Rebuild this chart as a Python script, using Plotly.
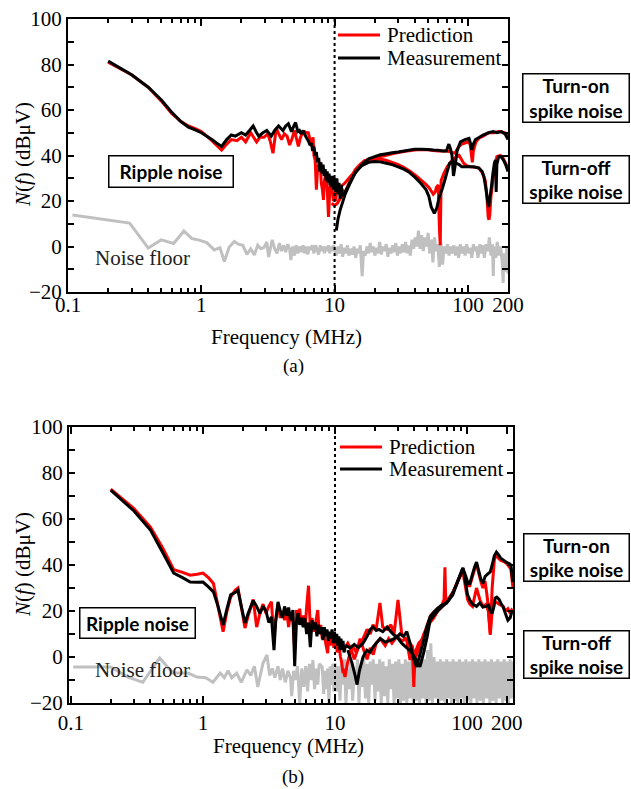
import math
import plotly.graph_objects as go

W, H = 631, 789
SERIF = "Liberation Serif"
SANS = "Lato"
RED = "#ff0000"
BLACK = "#000000"
GREY = "#c0c0c0"

# ---------------- Panel (a): (frequency MHz, N(f) dBuV) ----------------
A_RIPPLE_PRED = [
    (0.2, 81), (0.3, 75.5), (0.4, 70), (0.5, 64), (0.6, 58.5), (0.7, 55), (0.8, 53),
    (0.9, 51.8), (1.0, 50.5), (1.1, 48.5), (1.2, 46.5), (1.3, 44.5), (1.42, 42.4),
    (1.55, 45), (1.68, 47), (1.85, 46.5), (2.0, 48), (2.15, 46), (2.35, 50), (2.5, 47.5),
    (2.6, 46), (2.75, 48), (2.95, 48), (3.15, 49.5), (3.3, 46), (3.45, 41), (3.65, 52),
    (3.85, 49), (4.0, 47), (4.2, 49.5), (4.4, 48.5), (4.6, 44.6), (4.8, 47.5), (5.0, 51),
    (5.2, 47), (5.35, 44), (5.55, 48), (5.75, 50), (5.95, 50.5), (6.15, 50), (6.35, 50),
    (6.55, 47), (6.75, 44), (6.9, 48), (7.0, 40), (7.15, 38), (7.3, 25), (7.45, 34),
    (7.6, 36), (7.8, 37), (7.95, 28), (8.1, 25), (8.25, 20.5), (8.4, 29), (8.6, 32),
    (8.8, 26), (9.0, 13), (9.2, 24), (9.4, 30), (9.6, 25), (9.8, 20), (10.0, 24),
    (10.2, 20), (10.5, 27), (10.8, 24), (11.2, 26), (11.6, 24),
]
A_RIPPLE_MEAS = [
    (0.2, 81.5), (0.3, 75.5), (0.4, 70), (0.5, 64.5), (0.6, 59), (0.7, 55), (0.8, 52.5),
    (0.9, 51.3), (1.0, 50), (1.1, 48.5), (1.2, 47), (1.3, 45.5), (1.42, 44), (1.55, 47),
    (1.68, 49), (1.8, 48.5), (2.0, 50), (2.15, 49), (2.3, 51), (2.45, 53), (2.6, 50),
    (2.7, 48.5), (2.9, 50), (3.1, 51), (3.35, 48.5), (3.55, 51), (3.8, 53), (4.1, 51),
    (4.3, 53), (4.5, 54), (4.75, 50.5), (4.95, 53), (5.1, 54.5), (5.3, 50.5), (5.45, 51),
    (5.6, 49.5), (5.8, 51), (6.0, 49), (6.2, 47.5), (6.4, 46), (6.55, 44.5), (6.7, 45.5),
    (6.85, 42), (7.0, 44), (7.15, 40), (7.3, 41.5), (7.45, 37), (7.6, 39), (7.75, 33),
    (7.9, 37), (8.05, 32), (8.2, 36), (8.35, 31), (8.5, 34), (8.65, 29), (8.8, 33),
    (8.95, 28), (9.1, 32), (9.25, 27), (9.4, 31), (9.55, 26), (9.7, 31), (9.85, 25),
    (10.0, 30), (10.2, 24), (10.4, 30), (10.6, 23), (10.8, 28), (11.0, 21), (11.2, 27),
    (11.5, 22),
]
A_ON_PRED = [
    (9.5, 19), (10, 18), (10.5, 19), (11, 21), (11.9, 23.5), (13, 28.5), (14.2, 33.6),
    (15.5, 36), (16.7, 37.6), (18.5, 38.5), (21, 39.2), (24, 40), (27, 40.8), (30, 41.3),
    (35, 42), (40, 42.4), (45, 42.6), (50, 42.5), (55, 42.2), (60, 42), (65, 42), (70, 42),
    (75, 41.5), (80, 41), (85, 43.8), (90, 45), (95, 45.5), (100, 46), (104, 45), (106, 41),
    (108, 37), (110, 42), (115, 46), (121, 47.6), (130, 48.5), (143, 50), (157, 50),
    (170, 50.5), (180, 50.3), (190, 50), (200, 48.5),
]
A_ON_MEAS = [
    (10.3, 7), (10.6, 12), (11.0, 16), (11.5, 19.5), (12, 23), (13, 27.5), (14.2, 32),
    (15.5, 35), (16.7, 37), (18, 38.5), (20, 39.5), (22, 40.3), (24, 40.7), (27, 41.2),
    (30, 41.5), (35, 42.2), (40, 42.8), (45, 42.8), (50, 42.6), (55, 42.4), (60, 42.3),
    (65, 42), (69, 42), (72, 45), (74, 43), (76, 40), (78, 31), (80, 35), (83, 42),
    (88, 46), (95, 47), (102, 47.5), (105, 45), (107, 42.5), (110, 45), (114, 47),
    (122, 48), (130, 49), (143, 50), (155, 50.5), (165, 50), (178, 50.5), (190, 49.5),
    (200, 47),
]
A_OFF_PRED = [
    (10, 24), (11, 26), (12, 28), (13, 30.5), (14.2, 33), (15.5, 35.5), (16.7, 37.6),
    (18.5, 38.2), (20, 38.4), (22, 38.3), (24, 38), (27, 37), (30, 36), (33, 34.8),
    (37, 33), (41, 31), (45, 29), (48, 27.5), (51, 26), (53, 24.5), (55, 23), (57, 24),
    (58, 26), (60, 27), (61, 10), (62, 0.6), (62.5, 15), (63, 29), (66, 32), (70, 35),
    (75, 37.5), (82, 39.5), (86, 40), (90, 38), (93, 36.6), (98, 35.5), (105, 35),
    (115, 34.8), (121, 34.5), (128, 32.5), (135, 29), (138, 24), (140, 19), (142, 13),
    (144, 11.7), (146, 14), (149, 22), (154, 29), (159, 35), (165, 39.5), (175, 40),
    (183, 39), (190, 37), (196, 35.5), (200, 34),
]
A_OFF_MEAS = [
    (11.5, 22), (12.5, 26), (13.5, 30), (14.5, 33), (16, 35.5), (18, 37), (20, 37.4),
    (22, 37.2), (24, 36.7), (27, 36), (30, 35), (33, 34), (36, 32.8), (40, 30.5),
    (44, 28), (48.5, 25), (51, 22), (53, 17.5), (56, 14.6), (58.5, 17), (61, 21.8),
    (64, 25), (67, 29), (70, 33), (73, 36.6), (77, 37.5), (82, 36.6), (86, 36), (90, 35),
    (100, 35), (110, 35), (121, 34.5), (128, 33), (132, 30.6), (136, 26), (140, 21),
    (143, 17.4), (146, 21), (150, 26), (154, 32), (158, 36.6), (161, 38), (163, 24),
    (165, 36), (170, 39.5), (177, 39.5), (185, 38), (192, 36), (200, 33),
]
A_NOISE = [
    (0.108, 13.8), (0.29, 10.3), (0.4, -0.7), (0.5, 2.9), (0.62, 1.3), (0.74, 6.8),
    (0.85, 3.5), (0.95, 2.9), (1.1, 1.7), (1.25, -1.5), (1.38, -0.5), (1.49, -6.6),
    (1.62, -0.2), (1.77, 2.2), (1.9, 1), (2.05, 0.5), (2.2, -3.5), (2.35, -1), (2.5, -3.7),
    (2.65, 0.6), (2.8, -1), (2.95, -0.5), (3.1, 2), (3.2, -4.6), (3.4, 2.9), (3.55, -1),
    (3.7, -3), (3.85, 1.5), (4.0, -2), (4.15, 0.5), (4.3, -2.5), (4.45, 1), (4.6, -1),
    (4.7, -6), (4.85, 0), (5.0, -4), (5.15, 0.5), (5.3, -3), (5.45, 0), (5.6, -2.5),
    (5.8, 0.5), (5.95, -3), (6.1, 0), (6.3, -3.5), (6.45, 0), (6.6, -1.5), (6.8, 0.5),
    (7.0, -3), (7.2, 0.5), (7.4, -1.5), (7.6, -3.5), (7.8, 0.5), (8.0, -2), (8.2, 0),
    (8.4, -3), (8.6, 0), (8.8, -2), (9.0, 0.5), (9.2, -3), (9.4, 0), (9.6, -2), (9.8, 0.5),
    (10.0, -1), (10.3, -4), (10.6, 0), (10.9, -3), (11.2, 1), (11.5, -4.5), (11.8, -0.5),
    (12.1, -3), (12.5, 0.5), (12.8, -4), (13.2, -1), (13.6, -3.5), (14.0, 0), (14.4, -5),
    (14.8, -1), (15.2, -3), (15.6, 0.5), (16.1, -13), (16.5, -2), (17.0, -4), (17.5, 0),
    (18.0, -3), (18.5, 1.5), (19.0, -2.5), (19.5, 0), (20.1, -4), (20.6, -0.5), (21.2, -3),
    (21.8, 2), (22.4, -3.5), (23.1, 0), (23.7, -2), (24.4, 1), (25.1, -4.5), (25.8, -0.5),
    (26.5, -3), (27.3, 0.5), (28.0, -2.5), (28.8, 1.5), (29.6, -4), (30.5, 0), (31.3, -3),
    (32.2, 1), (33.1, -2.5), (34.1, 2), (35.0, -3), (36.0, 0.5), (37.0, -4), (38.1, 3),
    (39.2, -1), (40.3, 4), (41.4, 0), (42.6, 7), (43.8, -1), (45.0, 5), (46.3, -2),
    (47.6, 4), (48.9, 0), (50.3, 6), (51.7, -3), (53.2, 3), (54.7, -7), (56.2, 4),
    (57.8, -2), (59.4, 1), (61.1, -9), (62.8, 2), (64.6, -8), (66.4, 0), (68.3, -3),
    (70.2, 1), (72.2, -4), (74.2, 0), (76.3, -3), (78.5, 0.5), (80.7, -4), (83.0, 0),
    (85.3, -5), (87.7, 1), (90.2, -3), (92.7, 0), (95.3, -4), (98.0, 1), (101, -3),
    (104, -0.5), (107, -5), (110, 1), (113, -2), (116, 0), (119, -5), (123, 1), (126, -3),
    (130, 0.5), (133, -5), (137, 1), (141, -2), (145, 4), (149, -4), (153, 1), (155, -13),
    (157, 0), (162, -5), (166, 2), (171, -4), (176, 0), (181, -7), (184, -16), (186, -3),
    (191, -11), (196, 0), (200, -12),
]

# ---------------- Panel (b) ----------------
B_RIPPLE_PRED = [
    (0.2, 73), (0.3, 64.5), (0.4, 56.5), (0.5, 47), (0.6, 38), (0.7, 36.8), (0.8, 35.6),
    (0.9, 36), (1.0, 36.5), (1.1, 34.5), (1.2, 32), (1.3, 22), (1.42, 11), (1.52, 20),
    (1.62, 26), (1.75, 29), (1.84, 30), (1.95, 22), (2.08, 12.6), (2.2, 18), (2.4, 25),
    (2.55, 13), (2.7, 19), (2.85, 23), (3.0, 19), (3.15, 22), (3.3, 24), (3.45, 7.4),
    (3.55, 16), (3.7, 23), (3.85, 17), (4.0, 20), (4.15, 16), (4.3, 21), (4.45, 13),
    (4.6, 19), (4.8, 15), (4.95, 3), (5.1, 20.4), (5.25, 16), (5.4, 21), (5.55, 14),
    (5.75, 18), (5.95, 13), (6.1, 22), (6.3, 31), (6.5, 12), (6.7, 17), (6.9, 11),
    (7.1, 14), (7.4, 20.4), (7.6, 10), (7.8, 14), (8.0, 8), (8.2, 13), (8.5, 6), (8.8, 1.7),
    (9.0, 10), (9.2, 5), (9.5, 11), (9.8, 4), (10.1, 8), (10.4, 2), (10.7, 6), (11.0, 0),
    (11.2, -2), (11.5, -7),
]
B_RIPPLE_MEAS = [
    (0.2, 72.6), (0.3, 63.5), (0.4, 55.2), (0.5, 45), (0.6, 36.5), (0.7, 34.5),
    (0.8, 32.6), (0.9, 32.5), (1.0, 32.6), (1.1, 30.5), (1.2, 28.3), (1.3, 22), (1.42, 14),
    (1.52, 21), (1.62, 27), (1.75, 28), (1.84, 29), (1.95, 22), (2.08, 14.8), (2.2, 19),
    (2.4, 24.5), (2.55, 22), (2.7, 19), (2.85, 22), (3.0, 20), (3.15, 15), (3.3, 17.4),
    (3.45, 3), (3.55, 15), (3.7, 24), (3.85, 20), (4.0, 17), (4.15, 22), (4.3, 18),
    (4.45, 21.5), (4.6, 16), (4.8, 20.4), (4.95, -4), (5.1, 15), (5.25, 19), (5.4, 14),
    (5.55, 17), (5.75, 13), (5.9, 17), (6.1, 10), (6.3, 15), (6.5, 4.3), (6.7, 16),
    (6.9, 12), (7.1, 15), (7.3, 9), (7.5, 14), (7.7, 10), (7.9, 13), (8.1, 7.4), (8.3, 13),
    (8.5, 9), (8.7, 12), (8.9, 7), (9.1, 11), (9.3, 8), (9.5, 12), (9.7, 6), (9.9, 11),
    (10.1, 6), (10.3, 10), (10.5, 5), (10.7, 9), (10.9, 3), (11.1, 8), (11.3, 3),
    (11.5, 7), (11.7, 2), (12, 5),
]
B_ON_PRED = [
    (11.5, 3), (12.5, 6), (13.3, 3), (14, -1), (15, 4), (16.3, 8), (17.5, 12), (18.5, 10),
    (19.4, 14), (20.5, 12), (21.9, 23.5), (23, 13), (24.8, 12), (26.5, 14), (28, 10),
    (30, 24.8), (32, 10), (35, 7), (37, -1.3), (38.5, 5), (39.5, -13), (40.5, 2), (43, 6),
    (46.4, 8), (50, 14), (53, 18), (56, 19.5), (60, 20.5), (65, 23), (67, 25), (68, 39),
    (69, 24), (73, 25.5), (78, 28), (84, 32), (88, 35), (93, 38), (98, 33), (102, 31),
    (105, 31), (110, 35), (114, 38), (118, 40.5), (122, 37), (127, 33), (132, 30),
    (137, 33), (143, 25), (150, 10.4), (155, 30), (161, 42), (167, 45), (173, 43),
    (180, 42), (190, 41.5), (201, 40.5), (210, 39), (215, 38), (220, 33), (223, 30),
]
B_ON_MEAS = [
    (12, 5), (13, 4), (14, 5.5), (15, 4), (16.3, 6), (17.5, 9), (18.5, 12), (19.4, 13),
    (20.5, 11.5), (21.5, 12), (23, 11), (24.8, 13), (26.5, 11), (28, 9.5), (29.5, 8.7),
    (31, 10), (33, 9), (35, 11), (37, 6), (39, 0), (41.5, -4.3), (43, -1), (46.4, 6),
    (49, 12), (52.5, 17.4), (56, 19.5), (59.4, 21), (64, 22.5), (70, 23.5), (74, 25.5),
    (78, 27.8), (84, 32), (88, 35), (93, 38.7), (98, 35), (102, 32), (105, 32), (110, 36),
    (114, 39), (118, 41.3), (122, 38), (127, 34), (132, 32), (137, 35), (143, 36),
    (150, 37), (155, 40), (161, 44), (167, 45.6), (173, 44.5), (180, 43), (190, 42),
    (201, 41), (210, 40.5), (215, 40), (220, 35), (223, 32.6),
]
B_OFF_PRED = [
    (11.5, -5), (11.9, -8.7), (12.5, -2), (13.5, 5), (14.5, 2), (15.5, 8), (16.5, 3),
    (17.5, -1), (18.5, 4), (19.5, 1), (20.5, 6), (22, 8), (24, 5), (25.5, 8), (27, 6),
    (29.5, 9), (32, 7), (35, 8), (38, 5), (41, 0), (44, 5), (47, 10), (50, 13),
    (52.5, 15), (56, 17), (60, 20), (65, 22), (70, 24), (78, 28), (85, 33), (93, 37),
    (97, 31), (101, 25), (105, 23), (110, 22), (118, 30), (125, 25), (132, 22), (140, 23),
    (145, 20), (150, 9.6), (155, 20), (160, 23), (165, 24), (175, 23), (188, 22),
    (195, 20), (204, 21), (212, 19), (218, 20.5), (223, 20),
]
B_OFF_MEAS = [
    (12.5, 3), (13.5, -3), (14.2, -8), (14.7, -12), (15.3, -6), (16.3, 0), (17.4, 3),
    (18.4, 2), (19.4, 4.3), (20.5, 6), (22, 8), (24, 6.5), (25.5, 7), (27, 7.5),
    (29.5, 8.7), (32, 6), (35, 4), (38, 2), (41, -1), (44, -4.3), (47, 2), (50, 9),
    (52.5, 16), (56, 18), (60, 20), (65, 22), (70, 23.5), (78, 27), (85, 33), (93, 38.7),
    (97, 33), (101, 27), (105, 24.8), (110, 23), (118, 22), (125, 23.5), (132, 21.7),
    (140, 22), (146, 22.5), (150, 20), (155, 19), (160, 22), (163, 25.6), (168, 26),
    (175, 25), (182, 23), (188, 21.7), (195, 19), (204, 16), (212, 17), (218, 19.5),
    (223, 19),
]
B_NOISE = [
    (0.104, -4.3), (0.2, -4.3), (0.27, -8.7), (0.35, -11), (0.47, -0.4), (0.59, -7),
    (0.77, -7), (0.9, -8.7), (1.05, -9), (1.19, -11), (1.35, -7), (1.45, -9), (1.55, -6),
    (1.65, -9), (1.8, -7), (1.95, -11), (2.15, -5.6), (2.3, -8), (2.45, -4), (2.6, -13),
    (2.85, -2.6), (3.05, 0.9), (3.2, -8), (3.35, -5), (3.5, -9), (3.7, -4), (3.85, -10),
    (4.0, -5), (4.2, -11), (4.4, -6), (4.6, -9), (4.7, -17), (4.85, -6), (5.0, -10),
    (5.2, -4), (5.4, -20), (5.6, -5), (5.8, -13), (6.0, -4), (6.2, -15), (6.4, -3),
    (6.6, -10), (6.8, -1.3), (7.0, -14), (7.2, -5), (7.4, -12), (7.6, -3), (8.0, -4.3),
    (8.2, -16), (8.4, -6), (8.6, -14), (8.8, -5), (9.0, -20), (9.2, -4), (9.4, -12),
    (9.6, -3), (9.8, -15), (10.0, -2.6), (10.3, -15), (10.6, -4), (10.9, -19), (11.2, -3),
    (11.5, -12), (11.8, -1), (12.1, -20), (12.5, -5), (12.8, -14), (13.2, -2), (13.6, -19),
    (14.0, -6), (14.4, -11), (14.8, -1), (15.2, -20), (15.6, -4), (16.1, -13), (16.5, 0),
    (17.0, -18), (17.5, -3), (18.0, -20), (18.5, -2), (19.0, -12), (19.5, -1), (20.1, -19),
    (20.6, -3), (21.2, -15), (21.8, -1), (22.4, -20), (23.1, -2), (23.7, -17), (24.4, -4),
    (25.1, -20), (25.8, -1), (26.5, -14), (27.3, -3), (28.0, -20), (28.8, -2), (29.6, -18),
    (30.5, -1), (31.3, -20), (32.2, -3), (33.1, -19), (34.1, -1), (35.0, -20), (36.0, -2),
    (37.0, -18), (38.1, -0.5), (39.2, -20), (40.3, -3), (41.4, -19), (42.6, -1),
    (43.8, -20), (45.0, 2), (46.3, -18), (47.6, -1), (48.9, -20), (50.3, 3), (51.7, -19),
    (53.2, 6), (54.7, -20), (56.2, 0), (57.8, -18), (59.4, -2), (61.1, -20), (62.8, -1),
    (64.6, -19), (66.4, -2), (68.3, -20), (70.2, -1), (72.2, -18), (74.2, -2), (76.3, -20),
    (78.5, -1), (80.7, -19), (83.0, -2), (85.3, -20), (87.7, -1), (90.2, -18), (92.7, -2),
    (95.3, -20), (98.0, -1), (101, -19), (104, -2), (107, -20), (110, -1), (113, -18),
    (116, -2), (119, -20), (123, -1), (126, -19), (130, -2), (133, -20), (137, -1),
    (141, -18), (145, -2), (149, -20), (153, -1), (157, -19), (162, -2), (166, -20),
    (171, -1), (176, -18), (181, -2), (186, -20), (191, -1), (196, -19), (201, -2),
    (206, -20), (212, -1), (217, -18), (223, -2),
]

SWITCH_FREQ = 10  # MHz, boundary marked with the dotted line
X_TICKS = [0.1, 1, 10, 100, 200]
X_TICK_TEXT = ["0.1", "1", "10", "100", "200"]
X_MINOR = [0.2, 0.3, 0.4, 0.5, 0.6, 0.7, 0.8, 0.9, 2, 3, 4, 5, 6, 7, 8, 9,
           20, 30, 40, 50, 60, 70, 80, 90]
Y_TICKS = [-20, 0, 20, 40, 60, 80, 100]
Y_MINOR = [-10, 10, 30, 50, 70, 90]
Y_RANGE = [-20, 100]


def px(x):
    return x / W


def py(y):
    return 1 - y / H


fig = go.Figure()


def add_line(pairs, color, xa, ya):
    fig.add_trace(go.Scatter(
        x=[p[0] for p in pairs], y=[p[1] for p in pairs], mode="lines",
        line=dict(color=color, width=3, simplify=False),
        xaxis=xa, yaxis=ya, showlegend=False, hoverinfo="skip"))


for xa, ya, noise, preds, meas in [
    ("x", "y", A_NOISE, [A_RIPPLE_PRED, A_ON_PRED, A_OFF_PRED],
     [A_RIPPLE_MEAS, A_ON_MEAS, A_OFF_MEAS]),
    ("x2", "y2", B_NOISE, [B_RIPPLE_PRED, B_ON_PRED, B_OFF_PRED],
     [B_RIPPLE_MEAS, B_ON_MEAS, B_OFF_MEAS]),
]:
    add_line(noise, GREY, xa, ya)
    for s in preds:
        add_line(s, RED, xa, ya)
    for s in meas:
        add_line(s, BLACK, xa, ya)
    fig.add_trace(go.Scatter(
        x=[SWITCH_FREQ, SWITCH_FREQ], y=Y_RANGE, mode="lines",
        line=dict(color=BLACK, width=2, dash="dot"),
        xaxis=xa, yaxis=ya, showlegend=False, hoverinfo="skip"))


def x_axis(domain, rng, anchor, standoff):
    return dict(
        type="log", domain=domain, range=rng, anchor=anchor,
        tickmode="array", tickvals=X_TICKS, ticktext=X_TICK_TEXT,
        ticks="inside", ticklen=7, tickwidth=1.5, tickcolor="black",
        minor=dict(tickvals=X_MINOR, ticks="inside", ticklen=4, tickwidth=1.5,
                   tickcolor="black"),
        showline=True, linewidth=2, linecolor="black", mirror="ticks",
        showgrid=False, zeroline=False, automargin=False,
        tickfont=dict(family=SERIF, size=21, color="black"),
        ticklabelstandoff=standoff)


def y_axis(domain, anchor):
    return dict(
        domain=domain, range=Y_RANGE, anchor=anchor,
        tickmode="array", tickvals=Y_TICKS,
        ticks="inside", ticklen=6, tickwidth=1.5, tickcolor="black",
        minor=dict(tickvals=Y_MINOR, ticks="inside", ticklen=6, tickwidth=1.5,
                   tickcolor="black"),
        showline=True, linewidth=2, linecolor="black", mirror="ticks",
        showgrid=False, zeroline=False, automargin=False,
        tickfont=dict(family=SERIF, size=21, color="black"))


annotations = []
shapes = []


def text(x, y, s, size=21, xanchor="center", family=SERIF, color="black", angle=0):
    annotations.append(dict(
        x=px(x), y=py(y), xref="paper", yref="paper", text=s, showarrow=False,
        xanchor=xanchor, yanchor="middle", textangle=angle,
        font=dict(family=family, size=size, color=color)))


def box(x0, x1, y0, y1, s):
    annotations.append(dict(
        x=px((x0 + x1) / 2), y=py((y0 + y1) / 2), xref="paper", yref="paper",
        text=s, showarrow=False, xanchor="center", yanchor="middle",
        width=x1 - x0 - 3, height=y1 - y0 - 3, borderpad=0, borderwidth=1.5,
        bordercolor="black", bgcolor="white", align="center",
        font=dict(family=SANS, size=19, color="black")))


def legend(x0, y_pred, y_meas):
    for y, c, label in [(y_pred, RED, "Prediction"), (y_meas, BLACK, "Measurement")]:
        shapes.append(dict(type="line", xref="paper", yref="paper",
                           x0=px(x0), x1=px(x0 + 42), y0=py(y), y1=py(y),
                           line=dict(color=c, width=3)))
        text(x0 + 47, y, label, xanchor="left")


# panel (a)
text(23, 155, "<i>N</i>(<i>f</i>) (dBμV)", angle=-90)
text(93, 258, "Noise floor", xanchor="left", color="#222222")
text(286, 337, "Frequency (MHz)")
text(293, 366, "(a)", size=19)
legend(338, 35, 58)
box(108, 234, 155, 188, "<b>Ripple noise</b>")
box(522, 630, 73, 123, "<b>Turn-on<br>spike noise</b>")
box(522, 630, 155, 204, "<b>Turn-off<br>spike noise</b>")

# panel (b)
text(23, 565, "<i>N</i>(<i>f</i>) (dBμV)", angle=-90)
text(93, 670, "Noise floor", xanchor="left", color="#222222")
text(288, 746, "Frequency (MHz)")
text(293, 777, "(b)", size=19)
legend(340, 447, 469)
box(79, 196, 607, 639, "<b>Ripple noise</b>")
box(523, 630, 533, 582, "<b>Turn-on<br>spike noise</b>")
box(523, 630, 630, 679, "<b>Turn-off<br>spike noise</b>")

fig.update_layout(
    width=W, height=H,
    margin=dict(l=0, r=0, t=0, b=0, autoexpand=False),
    paper_bgcolor="white", plot_bgcolor="white", showlegend=False,
    xaxis=x_axis([68 / W, 508 / W], [-1, math.log10(200)], "y", -7),
    yaxis=y_axis([1 - 292 / H, 1 - 19 / H], "x"),
    xaxis2=x_axis([69 / W, 513 / W], [-1.015, math.log10(223)], "y2", 0),
    yaxis2=y_axis([1 - 703 / H, 1 - 427 / H], "x2"),
    annotations=annotations, shapes=shapes)

fig.write_html("out.html")
